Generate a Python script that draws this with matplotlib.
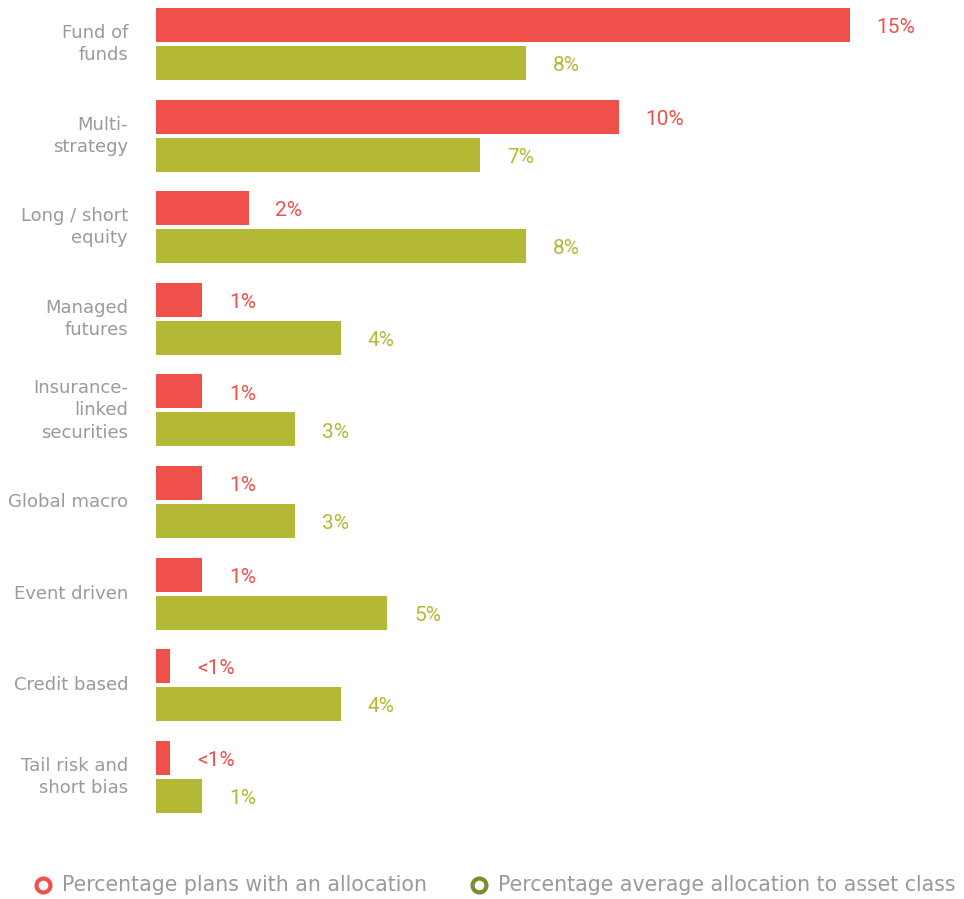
import matplotlib
matplotlib.use("Agg")
import matplotlib.pyplot as plt
from matplotlib.lines import Line2D
import numpy as np

plt.rcParams['font.family'] = ['DejaVu Sans']

categories = [
    "Fund of\nfunds",
    "Multi-\nstrategy",
    "Long / short\nequity",
    "Managed\nfutures",
    "Insurance-\nlinked\nsecurities",
    "Global macro",
    "Event driven",
    "Credit based",
    "Tail risk and\nshort bias",
]
plans_with_allocation = [15, 10, 2, 1, 1, 1, 1, 0.3, 0.3]
average_allocation = [8, 7, 8, 4, 3, 3, 5, 4, 1]
series_names = ["Percentage plans with an allocation",
                "Percentage average allocation to asset class"]

RED = "#F0504A"
GREEN = "#B3B935"
GREEN_DARK = "#7C8B30"
GREY = "#9A9A9A"
VALUE_FONT = ['Roboto', 'DejaVu Sans']


def pct_label(v):
    return "<1%" if v < 1 else f"{v:g}%"


W, H = 964, 899
fig = plt.figure(figsize=(W / 100, H / 100), dpi=100)

# axes spans x 156..964 px and y 0..830 px
ax_left, ax_right = 156, 964
ax_top, ax_bottom = 0, 830
ax = fig.add_axes([ax_left / W, 1 - ax_bottom / H,
                   (ax_right - ax_left) / W, (ax_bottom - ax_top) / H])

pitch = 91.6
first_center = 44.0
px_per_pct = 46.25

y = np.arange(len(categories))
bar_h = 34 / pitch
off = 19 / pitch

ax.barh(y - off, plans_with_allocation, height=bar_h, color=RED, linewidth=0)
ax.barh(y + off, average_allocation, height=bar_h, color=GREEN, linewidth=0)

gap = 27 / px_per_pct
for yi, v in zip(y, plans_with_allocation):
    ax.text(v + gap, yi - off + 0.03, pct_label(v), color=RED, fontsize=15,
            family=VALUE_FONT, ha="left", va="center")
for yi, v in zip(y, average_allocation):
    ax.text(v + gap, yi + off + 0.03, pct_label(v), color=GREEN, fontsize=15,
            family=VALUE_FONT, ha="left", va="center")

ax.set_xlim(0, (ax_right - ax_left) / px_per_pct)
ax.set_ylim((ax_bottom - first_center) / pitch, (ax_top - first_center) / pitch)
ax.axis("off")

# category labels, right aligned left of the bars
for yi, name in zip(y, categories):
    ax.annotate(name, xy=(0, yi), xycoords="data",
                xytext=(-(ax_left - 128) * 0.72, 0), textcoords="offset points",
                ha="right", va="center", color=GREY, fontsize=13,
                linespacing=1.3, multialignment="right")

# legend along the bottom
leg_y = 1 - 885 / H
for mx, tx, col, label in [(43, 62, RED, series_names[0]),
                           (479, 498, GREEN_DARK, series_names[1])]:
    fig.add_artist(Line2D([mx / W], [leg_y], transform=fig.transFigure,
                          marker="o", markersize=10, markerfacecolor="white",
                          markeredgecolor=col, markeredgewidth=3, linestyle=""))
    fig.text(tx / W, leg_y, label, color=GREY, fontsize=14.8,
             ha="left", va="center")

fig.savefig("out.png", dpi=100, facecolor="white")
